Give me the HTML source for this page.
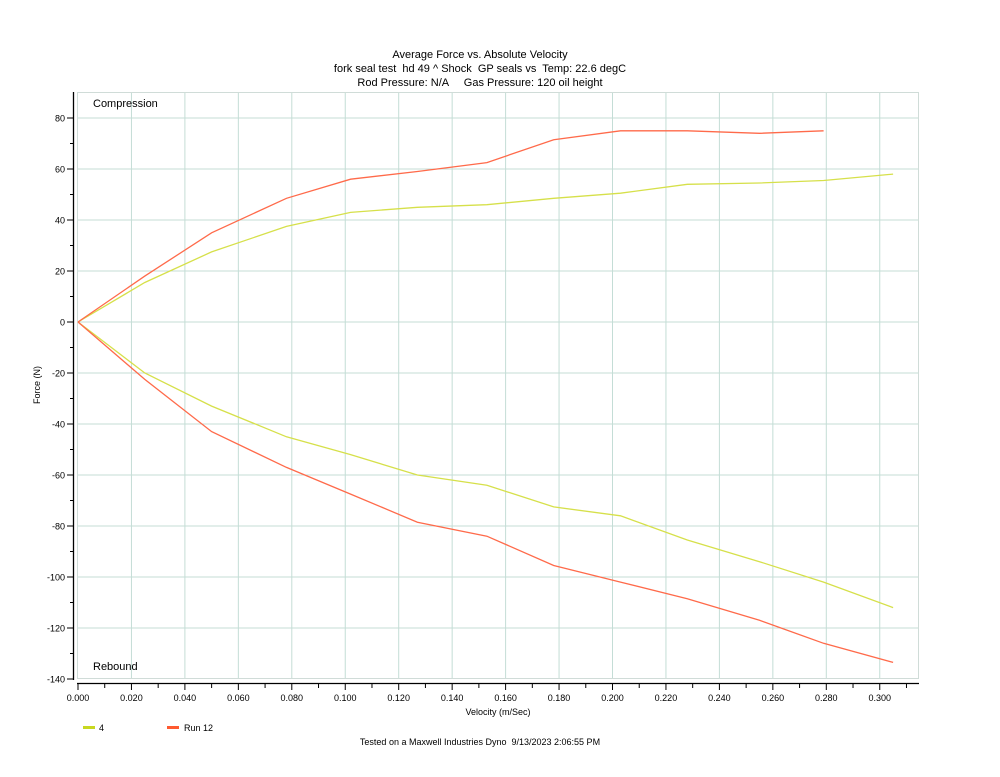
<!DOCTYPE html>
<html><head><meta charset="utf-8"><style>
body{margin:0;background:#fff;}
svg text{font-family:"Liberation Sans",sans-serif;white-space:pre;}
</style></head><body>
<svg id="s" width="1000" height="772" xmlns="http://www.w3.org/2000/svg" xml:space="preserve">
<text x="480" y="58" font-size="11" text-anchor="middle">Average Force vs. Absolute Velocity</text>
<text x="480" y="72" font-size="11" text-anchor="middle">fork seal test  hd 49 ^ Shock  GP seals vs  Temp: 22.6 degC</text>
<text x="480" y="86" font-size="11" text-anchor="middle">Rod Pressure: N/A     Gas Pressure: 120 oil height</text>
<g id="grid"></g>
<rect x="77.5" y="92.5" width="841" height="586" fill="none" stroke="#d0dcd8"/>
<line x1="73.5" y1="92" x2="73.5" y2="680" stroke="#000" stroke-width="1.3"/>
<line x1="77" y1="683.5" x2="919" y2="683.5" stroke="#000" stroke-width="1.3"/>
<g id="ticks"></g>
<text x="93" y="107" font-size="11">Compression</text>
<text x="93" y="670" font-size="11">Rebound</text>
<text x="40" y="385" font-size="9" text-anchor="middle" transform="rotate(-90 40 385)">Force (N)</text>
<text x="498" y="715" font-size="9" text-anchor="middle">Velocity (m/Sec)</text>
<line x1="83" y1="727.5" x2="95" y2="727.5" stroke="#c8d820" stroke-width="3"/>
<text x="99" y="731" font-size="9">4</text>
<line x1="167" y1="727.5" x2="179" y2="727.5" stroke="#ff5a30" stroke-width="3"/>
<text x="184" y="731" font-size="9">Run 12</text>
<text x="480" y="745" font-size="9" text-anchor="middle">Tested on a Maxwell Industries Dyno  9/13/2023 2:06:55 PM</text>
<g id="series"></g>
</svg>
<script>
const NS="http://www.w3.org/2000/svg";
const X=v=>78+v/0.02*53.45, Y=f=>322-f/20*51;
function el(p,t,a){const e=document.createElementNS(NS,t);for(const k in a)e.setAttribute(k,a[k]);document.getElementById(p).appendChild(e);return e;}
for(let i=1;i<=15;i++){const x=X(i*0.02);el('grid','line',{x1:x,y1:93,x2:x,y2:678,stroke:'#c4ddd6','stroke-width':1});}
for(let f=-120;f<=80;f+=20){const y=Y(f);el('grid','line',{x1:78,y1:y,x2:918,y2:y,stroke:'#c4ddd6','stroke-width':1});}
for(let f=-140;f<=80;f+=10){const y=Y(f);el('ticks','line',{x1:f%20==0?67:70,y1:y,x2:73,y2:y,stroke:'#000'});
 if(f%20==0){const t=el('ticks','text',{x:65,y:y+3.5,'font-size':9,'text-anchor':'end'});t.textContent=f;}}
for(let i=0;i<=31;i++){const x=X(i*0.01);el('ticks','line',{x1:x,y1:684,x2:x,y2:i%2==0?690:688,stroke:'#000'});
 if(i%2==0&&i<=30){const t=el('ticks','text',{x:x,y:701,'font-size':9,'text-anchor':'middle'});t.textContent=(i*0.01).toFixed(3);}}
const vs=[0,0.025,0.05,0.078,0.102,0.127,0.153,0.178,0.203,0.228,0.255,0.279,0.305];
function line(fs,col,n){const pts=fs.map((f,i)=>X(vs[i]).toFixed(1)+','+Y(f).toFixed(1)).slice(0,n||fs.length).join(' ');
 el('series','polyline',{points:pts,fill:'none',stroke:col,'stroke-width':1.3});}
line([0,15.5,27.5,37.5,43,45,46,48.5,50.5,54,54.5,55.5,58],'#d6e04a');
line([0,-20,-33,-45,-52,-60,-64,-72.5,-76,-85.5,-94,-102,-112],'#d6e04a');
line([0,18,35,48.5,56,59,62.5,71.5,75,75,74,75],'#ff6a4a');
line([0,-22.5,-43,-57,-67.5,-78.5,-84,-95.5,-102,-108.5,-117,-126,-133.5],'#ff6a4a');
</script>
</body></html>
